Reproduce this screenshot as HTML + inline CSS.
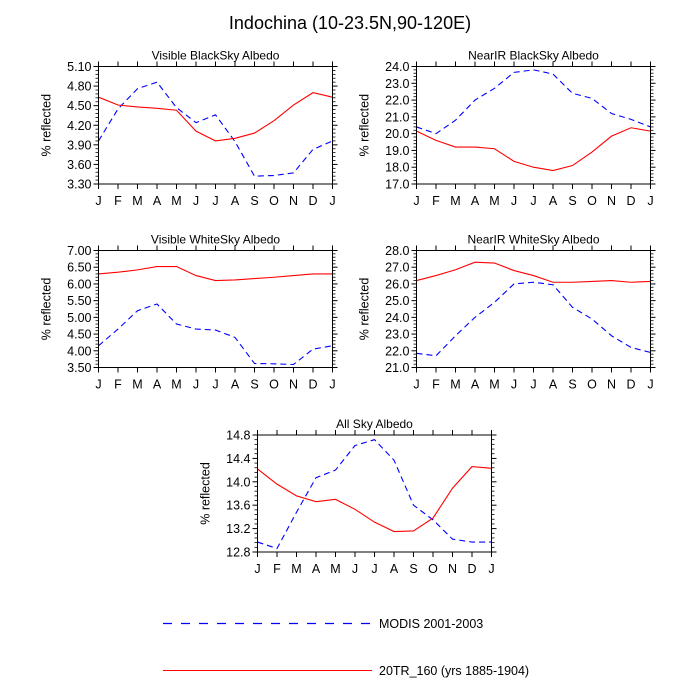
<!DOCTYPE html>
<html><head><meta charset="utf-8"><style>
html,body{margin:0;padding:0;background:#fff}
svg{display:block;font-family:"Liberation Sans",sans-serif}
</style></head><body>
<svg id="chart" width="700" height="700" viewBox="0 0 700 700">
<text x="350" y="29" font-size="18" text-anchor="middle">Indochina (10-23.5N,90-120E)</text>
</svg>
<script>
const months = ["J","F","M","A","M","J","J","A","S","O","N","D","J"];
const visBlackModis = [3.96,4.45,4.76,4.86,4.47,4.24,4.36,3.95,3.42,3.43,3.47,3.83,3.96];
const visBlackModel = [4.63,4.51,4.48,4.46,4.43,4.11,3.96,4.00,4.08,4.27,4.51,4.70,4.63];
const visBlackTicks = ["3.30","3.60","3.90","4.20","4.50","4.80","5.10"];
const nirBlackModis = [20.4,20.0,20.8,22.0,22.7,23.65,23.8,23.55,22.4,22.1,21.2,20.85,20.4];
const nirBlackModel = [20.15,19.6,19.2,19.2,19.1,18.35,18.0,17.8,18.1,18.9,19.85,20.35,20.15];
const nirBlackTicks = ["17.0","18.0","19.0","20.0","21.0","22.0","23.0","24.0"];
const visWhiteModis = [4.15,4.65,5.2,5.4,4.8,4.65,4.62,4.4,3.62,3.61,3.59,4.05,4.15];
const visWhiteModel = [6.3,6.35,6.42,6.52,6.52,6.25,6.1,6.12,6.16,6.2,6.25,6.3,6.3];
const visWhiteTicks = ["3.50","4.00","4.50","5.00","5.50","6.00","6.50","7.00"];
const nirWhiteModis = [21.85,21.7,22.9,24.0,24.9,26.0,26.1,25.95,24.6,23.9,22.9,22.2,21.9];
const nirWhiteModel = [26.2,26.5,26.85,27.3,27.25,26.8,26.5,26.1,26.1,26.15,26.2,26.1,26.15];
const nirWhiteTicks = ["21.0","22.0","23.0","24.0","25.0","26.0","27.0","28.0"];
const allSkyModis = [12.97,12.86,13.48,14.07,14.2,14.62,14.72,14.37,13.6,13.35,13.02,12.97,12.97];
const allSkyModel = [14.22,13.96,13.76,13.66,13.7,13.53,13.31,13.15,13.16,13.38,13.89,14.26,14.23];
const allSkyTicks = ["12.8","13.2","13.6","14.0","14.4","14.8"];

const svg = document.getElementById('chart');
const NS = "http://www.w3.org/2000/svg";
function mk(tag, attrs, parent){const e=document.createElementNS(NS,tag);for(const k in attrs)e.setAttribute(k,attrs[k]);(parent||svg).appendChild(e);return e;}

function panel(name,title,x0,y0,w,h,ticks,modis,model){
  const g = mk('g',{});
  
  
  const ymin=parseFloat(ticks[0]), ymax=parseFloat(ticks[ticks.length-1]);
  const xs=i=>x0+i*w/(months.length-1);
  const ys=v=>y0+h-(v-ymin)/(ymax-ymin)*h;
  const t = mk('text',{x:x0+w/2,y:y0-7,'font-size':12,'text-anchor':'middle'},g);
  t.textContent=title;
  
  
  const step=(ymax-ymin)/(ticks.length-1);
  for(let i=0;i<ticks.length-1;i++){for(let k=1;k<5;k++){const yy=ys(ymin+step*(i+k/5));
    mk('line',{x1:x0-3,x2:x0,y1:yy,y2:yy,stroke:'#000','stroke-width':0.8},g);
    mk('line',{x1:x0+w,x2:x0+w+3,y1:yy,y2:yy,stroke:'#000','stroke-width':0.8},g);}}
  ticks.forEach(tv=>{const yy=ys(parseFloat(tv));
    mk('line',{x1:x0-5,x2:x0,y1:yy,y2:yy,stroke:'#000','stroke-width':1},g);
    mk('line',{x1:x0+w,x2:x0+w+5,y1:yy,y2:yy,stroke:'#000','stroke-width':1},g);
    const l=mk('text',{x:x0-7,y:yy+4.5,'font-size':12.5,'text-anchor':'end'},g);
    l.textContent=tv;
    
    
  });
  months.forEach((m,i)=>{const xx=xs(i);
    mk('line',{x1:xx,x2:xx,y1:y0+h,y2:y0+h+5,stroke:'#000','stroke-width':1},g);
    mk('line',{x1:xx,x2:xx,y1:y0-5,y2:y0,stroke:'#000','stroke-width':1},g);
    const l=mk('text',{x:xx,y:y0+h+21,'font-size':12.5,'text-anchor':'middle'},g);
    l.textContent=m;
    
    
  });
  const yl=mk('text',{x:0,y:0,'font-size':12.5,'text-anchor':'middle',transform:`translate(${x0-48},${y0+h/2}) rotate(-90)`},g);
  yl.textContent='% reflected';
  
  
  const b=mk('polyline',{points:modis.map((v,i)=>xs(i)+','+ys(v)).join(' '),fill:'none',stroke:'#0000ff','stroke-width':1.1,'stroke-dasharray':'6,4'},g);
  
  
  const r=mk('polyline',{points:model.map((v,i)=>xs(i)+','+ys(v)).join(' '),fill:'none',stroke:'#ff0000','stroke-width':1.1},g);
  
  
  mk('rect',{x:x0,y:y0,width:w,height:h,fill:'none',stroke:'#000','stroke-width':1},g);
}
panel('visible-blacksky-panel','Visible BlackSky Albedo',98.5,66.5,234,117.5,visBlackTicks,visBlackModis,visBlackModel);
panel('nearir-blacksky-panel','NearIR BlackSky Albedo',416.5,66.5,234,117.5,nirBlackTicks,nirBlackModis,nirBlackModel);
panel('visible-whitesky-panel','Visible WhiteSky Albedo',98.5,250.5,234,117,visWhiteTicks,visWhiteModis,visWhiteModel);
panel('nearir-whitesky-panel','NearIR WhiteSky Albedo',416.5,250.5,234,117,nirWhiteTicks,nirWhiteModis,nirWhiteModel);
panel('all-sky-panel','All Sky Albedo',257.5,435,234,117,allSkyTicks,allSkyModis,allSkyModel);

const lg=mk('g',{});


mk('line',{x1:163,x2:372,y1:623.5,y2:623.5,stroke:'#0000ff','stroke-width':1.2,'stroke-dasharray':'9,9'},lg);
const t1=mk('text',{x:379,y:628,'font-size':12.5},lg);t1.textContent='MODIS 2001-2003';


mk('line',{x1:163,x2:372,y1:670.5,y2:670.5,stroke:'#ff0000','stroke-width':1.1},lg);
const t2=mk('text',{x:379,y:675,'font-size':12.5},lg);t2.textContent='20TR_160 (yrs 1885-1904)';


</script>
</body></html>
